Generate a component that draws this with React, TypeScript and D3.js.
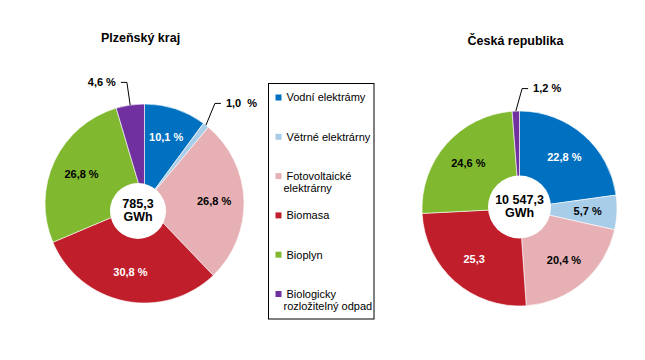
import * as d3 from 'd3';

// categories (legend order = slice order, clockwise from 12 o'clock)
const categories = [
  ['Vodní elektrámy'],
  ['Větrné elektrárny'],
  ['Fotovoltaické', 'elektrárny'],
  ['Biomasa'],
  ['Bioplyn'],
  ['Biologicky', 'rozložitelný odpad'],
];
const colors = ['#0070C0', '#A8CDE9', '#E6B0B4', '#BF1E2A', '#80B92F', '#7030A0'];

// Plzeňský kraj
const plzenValues = [10.1, 1.0, 26.8, 30.8, 26.8, 4.6];
const plzenLabels = ['10,1 %', '1,0\u00a0\u00a0%', '26,8 %', '30,8 %', '26,8 %', '4,6 %'];
const plzenTotal = '785,3';

// Česká republika
const czValues = [22.8, 5.7, 20.4, 25.3, 24.6, 1.2];
const czLabels = ['22,8 %', '5,7 %', '20,4 %', '25,3', '24,6 %', '1,2 %'];
const czTotal = '10 547,3';

const labelColors = ['#fff', '#000', '#000', '#fff', '#000', '#000'];
const FONT = '"Liberation Sans", Arial, sans-serif';

interface PieProps {
  title: string;
  values: number[];
  labels: string[];
  total: string;
  cx: number;
  cy: number;
  r: number;
  hole: { dx: number; dy: number; r: number };
  // leader-line labels: slice index -> angle shift (deg) + side
  leaders: Record<number, { shift: number; dir: number }>;
  titleY: number;
}

const Donut = ({ title, values, labels, total, cx, cy, r, hole, leaders, titleY }: PieProps) => {
  const pie = d3.pie<number>().sort(null).value(d => d)(values);
  const arc = d3.arc<d3.PieArcDatum<number>>().innerRadius(0).outerRadius(r);
  const labelArc = d3.arc<d3.PieArcDatum<number>>().innerRadius(r * 0.7).outerRadius(r * 0.7);
  const polar = (a: number, rad: number) => [Math.sin(a) * rad, -Math.cos(a) * rad];

  return (
    <g>
      <text x={cx - 4} y={titleY} textAnchor="middle" fontFamily={FONT} fontSize={12.5} fontWeight="bold">
        {title}
      </text>
      <g transform={`translate(${cx},${cy})`}>
        {pie.map((p, i) => (
          <path key={i} d={arc(p) || ''} fill={colors[i]} stroke="#fff" strokeWidth={0.6} />
        ))}
        {pie.map((p, i) => {
          const mid = (p.startAngle + p.endAngle) / 2;
          const lead = leaders[i];
          if (lead) {
            const [x0, y0] = polar(mid, r);
            const [x1, y1] = polar(mid + (lead.shift * Math.PI) / 180, r * 1.23);
            const x2 = x1 + lead.dir * 6;
            return (
              <g key={'l' + i}>
                <path d={`M${x0},${y0}L${x1},${y1}L${x2},${y1}`} fill="none" stroke="#000" strokeWidth={1} />
                <text
                  x={x2 + lead.dir * 5}
                  y={y1}
                  dy="0.35em"
                  textAnchor={lead.dir > 0 ? 'start' : 'end'}
                  fontFamily={FONT}
                  fontSize={11}
                  fontWeight="bold"
                  style={{ whiteSpace: 'pre' }}
                >
                  {labels[i]}
                </text>
              </g>
            );
          }
          const [lx, ly] = labelArc.centroid(p);
          return (
            <text
              key={'t' + i}
              x={lx}
              y={ly}
              dy="0.35em"
              textAnchor="middle"
              fontFamily={FONT}
              fontSize={11}
              fontWeight="bold"
              fill={labelColors[i]}
            >
              {labels[i]}
            </text>
          );
        })}
        <circle cx={hole.dx} cy={hole.dy} r={hole.r} fill="#fff" />
        <text x={hole.dx} y={hole.dy - 7} dy="0.35em" textAnchor="middle" fontFamily={FONT} fontSize={12.5} fontWeight="bold">
          {total}
        </text>
        <text x={hole.dx} y={hole.dy + 6} dy="0.35em" textAnchor="middle" fontFamily={FONT} fontSize={12.5} fontWeight="bold">
          GWh
        </text>
      </g>
    </g>
  );
};

const Legend = ({ x, y, w, h }: { x: number; y: number; w: number; h: number }) => {
  const step = 39.3;
  return (
    <g>
      <rect x={x} y={y} width={w} height={h} fill="#fff" stroke="#000" strokeWidth={1} />
      {categories.map((lines, i) => {
        const cy = y + 14 + i * step;
        return (
          <g key={i}>
            <rect x={x + 7} y={cy - 3} width={6} height={6} fill={colors[i]} />
            {lines.map((ln, j) => (
              <text
                key={j}
                x={j === 0 ? x + 18 : x + 15}
                y={cy + j * 12.5}
                dy="0.35em"
                fontFamily={FONT}
                fontSize={11}
                fill="#000"
              >
                {ln}
              </text>
            ))}
          </g>
        );
      })}
    </g>
  );
};

export default function App() {
  return (
    <svg width={645} height={360} style={{ position: 'absolute', left: 0, top: 0, background: '#fff' }}>
      <rect width={645} height={360} fill="#fff" />
      <Donut
        title="Plzeňský kraj"
        values={plzenValues}
        labels={plzenLabels}
        total={plzenTotal}
        cx={144.5}
        cy={203.5}
        r={99.5}
        hole={{ dx: -6.5, dy: 7.5, r: 28 }}
        leaders={{ 1: { shift: -3, dir: 1 }, 5: { shift: 0, dir: -1 } }}
        titleY={42}
      />
      <Donut
        title="Česká republika"
        values={czValues}
        labels={czLabels}
        total={czTotal}
        cx={519.5}
        cy={208.5}
        r={97.5}
        hole={{ dx: 0, dy: -1.5, r: 31.5 }}
        leaders={{ 5: { shift: 3.4, dir: 1 } }}
        titleY={45}
      />
      <Legend x={268.5} y={83.5} w={105.5} h={235.5} />
    </svg>
  );
}
